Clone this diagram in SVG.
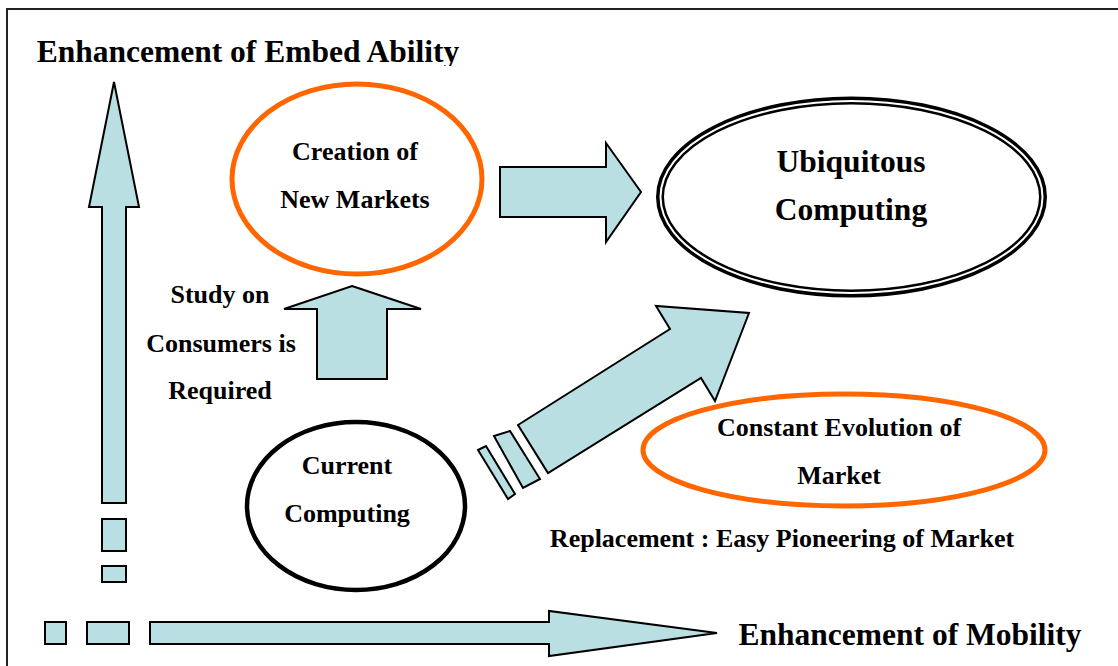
<svg xmlns="http://www.w3.org/2000/svg" width="1118" height="666" viewBox="0 0 1118 666">
  <style>
    .lbl { font-family: "Liberation Serif", "Times New Roman", serif; font-weight: bold; fill: #000; text-anchor: middle; }
    .s26 { font-size: 26px; }
    .s31 { font-size: 31.5px; }
    .shape { fill: #B9DFE2; stroke: #000; stroke-width: 2; stroke-linejoin: miter; }
    .orange { fill: #fff; stroke: #FF6600; stroke-width: 5; }
  </style>
  <defs>
    <!-- descenders of the axis titles are cut by their text boxes -->
    <clipPath id="clipTop"><rect x="0" y="0" width="600" height="66"/></clipPath>
    <clipPath id="clipBottom"><rect x="700" y="600" width="418" height="648"/></clipPath>
  </defs>

  <rect width="1118" height="666" fill="#fff"/>
  <!-- outer frame -->
  <rect x="7" y="9" width="1130" height="680" fill="none" stroke="#222" stroke-width="2"/>

  <!-- axis titles -->
  <text class="lbl s31" x="248" y="62" clip-path="url(#clipTop)">Enhancement of Embed Ability</text>
  <text class="lbl s31" x="910" y="645" clip-path="url(#clipBottom)">Enhancement of Mobility</text>

  <g id="connectors">
    <!-- vertical axis arrow -->
    <polygon class="shape" points="114,82 139,207 126,207 126,503 102,503 102,207 89,207"/>
    <rect class="shape" x="102" y="519" width="24" height="32"/>
    <rect class="shape" x="102" y="566" width="24" height="16"/>
    <!-- horizontal axis arrow -->
    <rect class="shape" x="45" y="622" width="21" height="22"/>
    <rect class="shape" x="87" y="622" width="42" height="22"/>
    <polygon class="shape" points="150,622 549,622 549,611 717,633 549,656 549,644 150,644"/>
    <!-- new markets to ubiquitous -->
    <polygon class="shape" points="500,167 606,167 606,143 641,192 606,242 606,217 500,217"/>
    <!-- current computing to new markets -->
    <polygon class="shape" points="352,286 421,309 387,309 387,379 317,379 317,309 284,309"/>
    <!-- current computing to ubiquitous -->
    <polygon class="shape" points="518,425 670,329 656,306 749,313 715,401 701,378 548,473"/>
    <polygon class="shape" points="494,436 510,431 540,479 523,488"/>
    <polygon class="shape" points="478,450 486,446 515,494 508,499"/>
  </g>

  <g id="node-new-markets">
    <ellipse class="orange" cx="357" cy="179" rx="125" ry="95"/>
    <text class="lbl s26" x="355" y="160">Creation of</text>
    <text class="lbl s26" x="355" y="208">New Markets</text>
  </g>

  <g id="node-ubiquitous">
    <!-- triple outline: thick outer band, white gap, thin inner line -->
    <ellipse cx="851.5" cy="197" rx="191.5" ry="96.5" fill="#fff" stroke="#000" stroke-width="8"/>
    <ellipse cx="851.5" cy="197" rx="191" ry="96" fill="none" stroke="#fff" stroke-width="2"/>
    <text class="lbl s31" x="851" y="172">Ubiquitous</text>
    <text class="lbl s31" x="851" y="220">Computing</text>
  </g>

  <g id="node-study">
    <text class="lbl s26" x="220" y="303">Study on</text>
    <text class="lbl s26" x="221" y="352">Consumers is</text>
    <text class="lbl s26" x="220" y="399">Required</text>
  </g>

  <g id="node-current">
    <ellipse cx="356" cy="506" rx="109" ry="84" fill="#fff" stroke="#000" stroke-width="4.5"/>
    <text class="lbl s26" x="347" y="474">Current</text>
    <text class="lbl s26" x="347" y="522">Computing</text>
  </g>

  <g id="node-evolution">
    <ellipse class="orange" cx="844" cy="450" rx="201" ry="56"/>
    <text class="lbl s26" x="839" y="436">Constant Evolution of</text>
    <text class="lbl s26" x="839" y="484">Market</text>
  </g>

  <g id="node-replacement">
    <text class="lbl s26" x="782" y="547">Replacement : Easy Pioneering of Market</text>
  </g>
</svg>
